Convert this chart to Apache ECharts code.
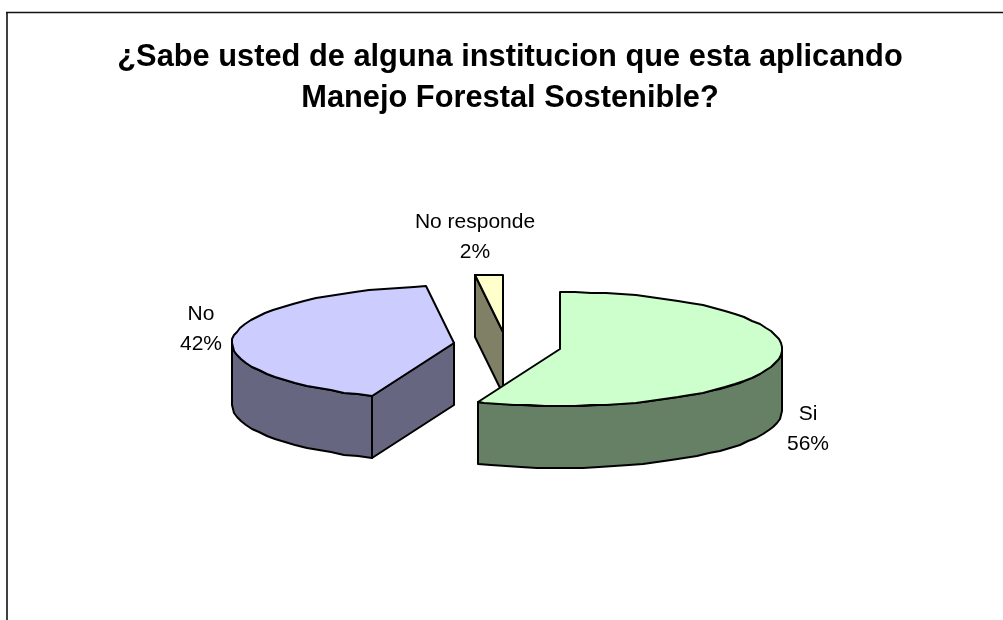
<!DOCTYPE html>
<html>
<head>
<meta charset="utf-8">
<title>Manejo Forestal Sostenible</title>
<script src="https://cdn.jsdelivr.net/npm/echarts@6/dist/echarts.min.js"></script>
<style>
  html, body { margin: 0; padding: 0; background: #fff; }
  #chart { width: 1003px; height: 620px; }
</style>
</head>
<body>
<div id="chart"></div>
<script>
const categories = ['Si', 'No', 'No responde'];
const percents = [56, 42, 2];

// look of each slice, same order as categories
const topColors = ['#CCFFCC', '#CCCCFF', '#FFFFCC'];
const sideColors = ['#668066', '#666680', '#808066'];
// pie is exploded: every slice has its own centre on the page
const centers = [[560, 349], [454, 343], [503, 332]];
const labelAt = [[808, 429], [201, 329], [475, 237]];
const drawOrder = [3, 2, 1];  // Si paints over the tip of No responde

const radiusX = 222;
const radiusY = 57;
const depth = 62;
const rimStep = 4;  // coarse rim with whole pixels, the old chart has the same rough edge
const fontFamily = 'Arial, "Liberation Sans", sans-serif';

const total = percents.reduce((a, b) => a + b, 0);

function renderSlice(params, api) {
  const idx = params.dataIndex;
  const value = api.value(0);
  let before = 0;
  for (let i = 0; i < idx; i++) before += percents[i];
  const start = before / total * 360;
  const end = start + value / total * 360;
  const c = centers[idx];
  const z2 = drawOrder[idx] * 10;

  // angle is clockwise from the top, squashed to an ellipse
  const rimPoint = (deg, drop) => {
    const r = deg * Math.PI / 180;
    return [
      Math.round(c[0] + radiusX * Math.sin(r)),
      Math.round(c[1] - radiusY * Math.cos(r)) + drop
    ];
  };
  const face = { fill: topColors[idx], stroke: '#000', lineWidth: 2, lineJoin: 'round' };
  const side = { fill: sideColors[idx], stroke: '#000', lineWidth: 2, lineJoin: 'round' };
  const children = [];

  // flat wall on the cut edge when it looks towards us
  if (Math.sin(start * Math.PI / 180) < 0) {
    const p = rimPoint(start, 0);
    children.push({
      type: 'polygon', z2: z2,
      shape: { points: [c, p, [p[0], p[1] + depth], [c[0], c[1] + depth]] },
      style: side
    });
  }

  // curved wall, only the front half of the ellipse
  const wallFrom = Math.max(start, 90);
  const wallTo = Math.min(end, 270);
  if (wallTo > wallFrom) {
    const topRim = [];
    const lowRim = [];
    for (let d = wallFrom; d < wallTo; d += rimStep) {
      topRim.push(rimPoint(d, 0));
      lowRim.unshift(rimPoint(d, depth));
    }
    topRim.push(rimPoint(wallTo, 0));
    lowRim.unshift(rimPoint(wallTo, depth));
    children.push({
      type: 'polygon', z2: z2 + 1,
      shape: { points: topRim.concat(lowRim) },
      style: side
    });
  }

  // top face
  const topPts = [c];
  for (let d = start; d < end; d += rimStep) topPts.push(rimPoint(d, 0));
  topPts.push(rimPoint(end, 0));
  children.push({
    type: 'polygon', z2: z2 + 2,
    shape: { points: topPts },
    style: face
  });

  children.push({
    type: 'text', z2: 100,
    x: labelAt[idx][0], y: labelAt[idx][1],
    style: {
      text: categories[idx] + '\n' + value + '%',
      fill: '#000',
      font: '21px ' + fontFamily,
      lineHeight: 30,
      align: 'center',
      verticalAlign: 'middle'
    }
  });

  return { type: 'group', children: children };
}

const chartInstance = echarts.init(document.getElementById('chart'), null, { renderer: 'canvas' });
chartInstance.setOption({
  animation: false,
  backgroundColor: '#fff',
  title: {
    text: '¿Sabe usted de alguna institucion que esta aplicando\nManejo Forestal Sostenible?',
    left: 505,
    top: 32,
    textAlign: 'center',
    textStyle: {
      fontFamily: fontFamily,
      fontSize: 30.8,
      fontWeight: 'bold',
      color: '#000',
      lineHeight: 41
    }
  },
  graphic: [
    // chart frame: left and top only, the rest runs past the page
    { type: 'line', z: -1, shape: { x1: 7, y1: 12, x2: 7, y2: 620 }, style: { stroke: '#404040', lineWidth: 2 } },
    { type: 'line', z: -1, shape: { x1: 6, y1: 12.5, x2: 1003, y2: 12.5 }, style: { stroke: '#111', lineWidth: 1.5 } }
  ],
  series: [{
    type: 'custom',
    coordinateSystem: 'none',
    renderItem: renderSlice,
    data: percents.map(v => [v])
  }]
});
</script>
</body>
</html>
